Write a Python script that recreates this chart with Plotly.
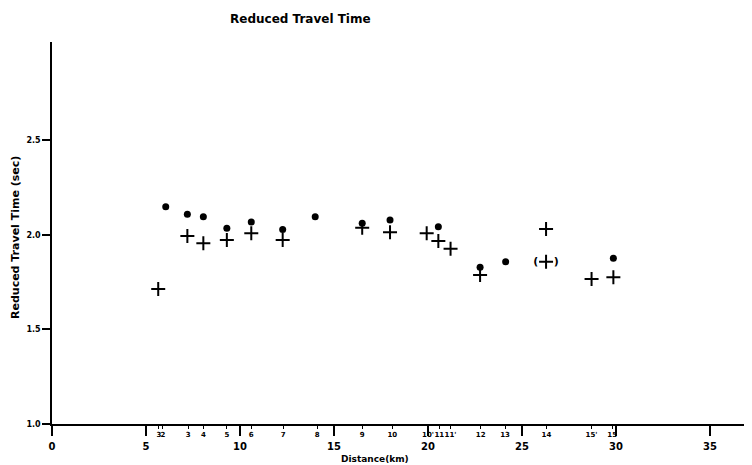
import plotly.graph_objects as go

# Data
dot_x = [6.05, 7.2, 8.05, 9.3, 10.6, 12.27, 14.0, 16.5, 17.98, 20.55, 22.77, 24.13, 29.86]
dot_y = [2.148, 2.108, 2.095, 2.034, 2.067, 2.028, 2.095, 2.06, 2.078, 2.042, 1.828, 1.857, 1.875]

plus_x = [5.65, 7.2, 8.05, 9.3, 10.6, 12.27, 16.5, 17.98, 19.93, 20.55, 21.2, 22.77, 26.28, 28.7, 29.86]
plus_y = [1.713, 1.993, 1.955, 1.972, 2.007, 1.972, 2.037, 2.013, 2.007, 1.967, 1.926, 1.787, 2.03, 1.766, 1.775]

paren_x = [26.28]
paren_y = [1.857]

station_pos = [5.69, 5.9, 7.25, 8.05, 9.3, 10.6, 12.3, 14.1, 16.5, 18.1, 20.0, 20.6, 21.2, 22.8, 24.1, 26.3, 28.7, 29.8]
station_labels = ["3", "2", "3", "4", "5", "6", "7", "8", "9", "10", "10'", "11", "11'", "12", "13", "14", "15'", "15"]

major_ticks = [0, 5, 10, 15, 20, 25, 30, 35]
y_ticks = [1.0, 1.5, 2.0, 2.5]

FONT = "DejaVu Sans"

fig = go.Figure()
fig.add_trace(go.Scatter(
    x=dot_x, y=dot_y, mode="markers",
    marker=dict(symbol="circle", size=7, color="black"),
    showlegend=False))
fig.add_trace(go.Scatter(
    x=plus_x, y=plus_y, mode="markers",
    marker=dict(symbol="cross-thin", size=10, color="black",
                line=dict(color="black", width=2)),
    showlegend=False))
fig.add_trace(go.Scatter(
    x=paren_x, y=paren_y, mode="markers+text",
    text=["<b>(    )</b>"], textposition="middle center",
    textfont=dict(family=FONT, size=11, color="black"),
    marker=dict(symbol="cross-thin", size=10, color="black",
                line=dict(color="black", width=2)),
    showlegend=False))
# invisible trace to activate the secondary x axis
fig.add_trace(go.Scatter(x=[station_pos[0]], y=[1.0], xaxis="x2", mode="markers",
                         marker=dict(opacity=0), showlegend=False, hoverinfo="skip"))

x_range = [0, 700 / 18.8]
y_range = [1.0, 1.0 + 382 / 189.3]

fig.update_layout(
    width=744, height=457,
    margin=dict(l=44, r=0, t=34, b=41),
    paper_bgcolor="white", plot_bgcolor="white",
    font=dict(family=FONT, color="black"),
    xaxis=dict(range=x_range, tickvals=major_ticks,
               ticktext=[str(v) for v in major_ticks],
               ticks="outside", ticklen=10, tickwidth=1.5, tickcolor="black",
               ticklabelstandoff=2,
               showline=True, linecolor="black", linewidth=1.5,
               showgrid=False, zeroline=False,
               tickfont=dict(family=FONT, size=10, color="black", weight="bold")),
    xaxis2=dict(range=x_range, overlaying="x", anchor="y", side="bottom",
                tickvals=station_pos, ticktext=station_labels,
                ticks="outside", ticklen=4, tickwidth=1.2, tickcolor="black",
                showline=False, showgrid=False, zeroline=False,
                tickangle=0,
                tickfont=dict(family=FONT, size=7, color="black", weight="bold")),
    yaxis=dict(range=y_range, tickvals=y_ticks, tickformat=".1f",
               ticks="outside", ticklen=8, tickwidth=1.5, tickcolor="black",
               showline=True, linecolor="black", linewidth=1.5,
               showgrid=False, zeroline=False,
               tickfont=dict(family=FONT, size=8, color="black", weight="bold")),
    annotations=[
        dict(text="<b>Reduced Travel Time</b>", xref="paper", yref="paper",
             x=(300 - 52) / 700, y=1 + (42 - 19) / 382, showarrow=False,
             xanchor="center", yanchor="middle",
             font=dict(family=FONT, size=12, color="black")),
        dict(text="<b>Reduced Travel Time (sec)</b>", xref="paper", yref="paper",
             x=(15 - 52) / 700, y=(424 - 238) / 382, showarrow=False, textangle=-90,
             xanchor="center", yanchor="middle",
             font=dict(family=FONT, size=11, color="black")),
        dict(text="<b>Distance(km)</b>", xref="paper", yref="paper",
             x=(375 - 52) / 700, y=-(459 - 424) / 382, showarrow=False,
             xanchor="center", yanchor="middle",
             font=dict(family=FONT, size=9, color="black")),
    ],
)

fig.write_html("out.html")
